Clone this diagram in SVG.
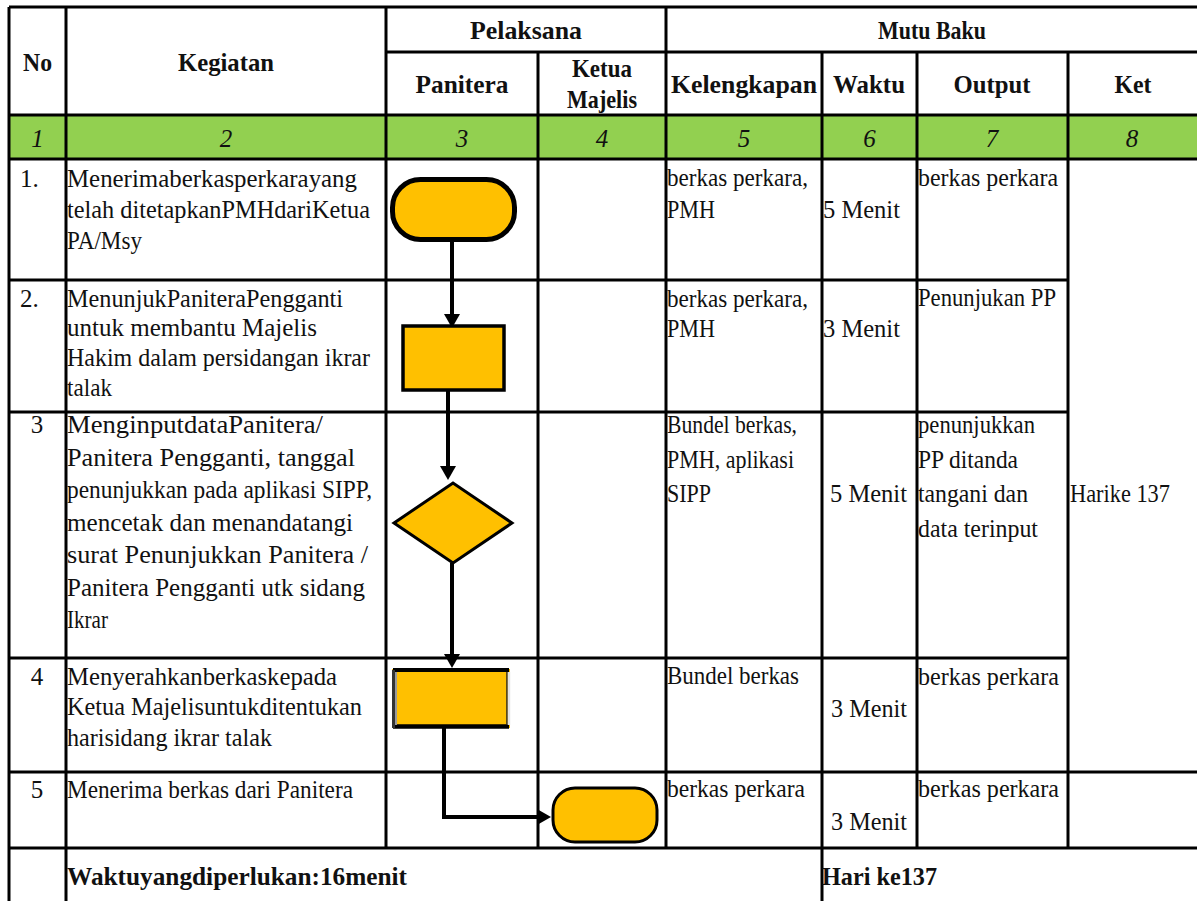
<svg xmlns="http://www.w3.org/2000/svg" width="1197" height="901" viewBox="0 0 1197 901">
  <style>
    .t { font-family: "Liberation Serif", "Times New Roman", serif; font-size: 25px; fill: #111; }
    .b { font-weight: bold; font-size: 26px; }
    .i { font-style: italic; }
    .c { text-anchor: middle; }
    .grid { stroke: #000; stroke-width: 3; fill: none; }
    .shape { fill: #FFC000; stroke: #000; }
    .wire { stroke: #000; stroke-width: 4; fill: none; }
  </style>
  <defs>
    <marker id="head" markerUnits="userSpaceOnUse" markerWidth="15" markerHeight="16" refX="0" refY="8" orient="auto">
      <path d="M0,0 L14,8 L0,16 z" fill="#000"/>
    </marker>
  </defs>

  <rect width="1197" height="901" fill="#fff"/>

  <!-- numbering band -->
  <rect x="9" y="115" width="1188" height="44" fill="#92D050"/>

  <!-- table rules -->
  <g id="table-grid" class="grid">
    <path d="M9,7 H1197 M386,52 H1197 M9,115 H1197 M9,159 H1197 M9,280 H1068 M9,412 H1068 M9,658 H1068 M9,772 H1197 M9,848 H1197"/>
    <path d="M9,7 V901 M66,7 V901 M386,7 V848 M538,52 V848 M666,7 V848 M822,52 V901 M917,52 V848 M1068,52 V848"/>
  </g>

  <!-- column headings -->
  <g id="header">
    <text class="t b c" x="37.5" y="71" textLength="29" lengthAdjust="spacingAndGlyphs">No</text>
    <text class="t b c" x="226" y="71" textLength="96" lengthAdjust="spacingAndGlyphs">Kegiatan</text>
    <text class="t b c" x="526" y="39" textLength="112" lengthAdjust="spacingAndGlyphs">Pelaksana</text>
    <text class="t b c" x="932" y="39" textLength="108" lengthAdjust="spacingAndGlyphs">Mutu Baku</text>
    <text class="t b c" x="462" y="93" textLength="93" lengthAdjust="spacingAndGlyphs">Panitera</text>
    <text class="t b c" x="602" y="77" textLength="60" lengthAdjust="spacingAndGlyphs">Ketua</text>
    <text class="t b c" x="602" y="108" textLength="70" lengthAdjust="spacingAndGlyphs">Majelis</text>
    <text class="t b c" x="744" y="93" textLength="146" lengthAdjust="spacingAndGlyphs">Kelengkapan</text>
    <text class="t b c" x="869" y="93" textLength="72" lengthAdjust="spacingAndGlyphs">Waktu</text>
    <text class="t b c" x="992" y="93" textLength="77" lengthAdjust="spacingAndGlyphs">Output</text>
    <text class="t b c" x="1133" y="93" textLength="37" lengthAdjust="spacingAndGlyphs">Ket</text>
  </g>

  <g id="column-numbers">
    <text class="t i c" x="37.5" y="147">1</text>
    <text class="t i c" x="226" y="147">2</text>
    <text class="t i c" x="462" y="147">3</text>
    <text class="t i c" x="602" y="147">4</text>
    <text class="t i c" x="744" y="147">5</text>
    <text class="t i c" x="869.5" y="147">6</text>
    <text class="t i c" x="992" y="147">7</text>
    <text class="t i c" x="1132" y="147">8</text>
  </g>

  <!-- row 1 -->
  <g id="row-1">
    <text class="t" x="20" y="187">1.</text>
    <text class="t" x="67" y="187" textLength="290" lengthAdjust="spacingAndGlyphs">Menerimaberkasperkarayang</text>
    <text class="t" x="67" y="218" textLength="303" lengthAdjust="spacingAndGlyphs">telah ditetapkanPMHdariKetua</text>
    <text class="t" x="67" y="249" textLength="75" lengthAdjust="spacingAndGlyphs">PA/Msy</text>
    <text class="t" x="667" y="186" textLength="141" lengthAdjust="spacingAndGlyphs">berkas perkara,</text>
    <text class="t" x="667" y="218" textLength="48" lengthAdjust="spacingAndGlyphs">PMH</text>
    <text class="t" x="823" y="218" textLength="77" lengthAdjust="spacingAndGlyphs">5 Menit</text>
    <text class="t" x="918" y="186" textLength="140" lengthAdjust="spacingAndGlyphs">berkas perkara</text>
  </g>

  <!-- row 2 -->
  <g id="row-2">
    <text class="t" x="20" y="307">2.</text>
    <text class="t" x="67" y="307" textLength="276" lengthAdjust="spacingAndGlyphs">MenunjukPaniteraPengganti</text>
    <text class="t" x="67" y="336" textLength="250" lengthAdjust="spacingAndGlyphs">untuk membantu Majelis</text>
    <text class="t" x="67" y="366" textLength="303" lengthAdjust="spacingAndGlyphs">Hakim dalam persidangan ikrar</text>
    <text class="t" x="67" y="396" textLength="45" lengthAdjust="spacingAndGlyphs">talak</text>
    <text class="t" x="667" y="307" textLength="141" lengthAdjust="spacingAndGlyphs">berkas perkara,</text>
    <text class="t" x="667" y="337" textLength="48" lengthAdjust="spacingAndGlyphs">PMH</text>
    <text class="t" x="823" y="337" textLength="77" lengthAdjust="spacingAndGlyphs">3 Menit</text>
    <text class="t" x="918" y="306" textLength="138" lengthAdjust="spacingAndGlyphs">Penunjukan PP</text>
  </g>

  <!-- row 3 -->
  <g id="row-3">
    <text class="t c" x="37" y="433">3</text>
    <text class="t" x="67" y="433" textLength="256" lengthAdjust="spacingAndGlyphs">MenginputdataPanitera/</text>
    <text class="t" x="67" y="465.5" textLength="288" lengthAdjust="spacingAndGlyphs">Panitera Pengganti, tanggal</text>
    <text class="t" x="67" y="498" textLength="305" lengthAdjust="spacingAndGlyphs">penunjukkan pada aplikasi  SIPP,</text>
    <text class="t" x="67" y="530.5" textLength="286" lengthAdjust="spacingAndGlyphs">mencetak dan menandatangi</text>
    <text class="t" x="67" y="563" textLength="301" lengthAdjust="spacingAndGlyphs">surat Penunjukkan Panitera /</text>
    <text class="t" x="67" y="595.5" textLength="298" lengthAdjust="spacingAndGlyphs">Panitera Pengganti utk sidang</text>
    <text class="t" x="67" y="628" textLength="41" lengthAdjust="spacingAndGlyphs">Ikrar</text>
    <text class="t" x="667" y="433" textLength="130" lengthAdjust="spacingAndGlyphs">Bundel berkas,</text>
    <text class="t" x="667" y="468" textLength="127" lengthAdjust="spacingAndGlyphs">PMH, aplikasi</text>
    <text class="t" x="667" y="502" textLength="44" lengthAdjust="spacingAndGlyphs">SIPP</text>
    <text class="t" x="830" y="502" textLength="77" lengthAdjust="spacingAndGlyphs">5 Menit</text>
    <text class="t" x="918" y="433" textLength="117" lengthAdjust="spacingAndGlyphs">penunjukkan</text>
    <text class="t" x="918" y="468" textLength="100" lengthAdjust="spacingAndGlyphs">PP ditanda</text>
    <text class="t" x="918" y="502" textLength="110" lengthAdjust="spacingAndGlyphs">tangani dan</text>
    <text class="t" x="918" y="537" textLength="120" lengthAdjust="spacingAndGlyphs">data terinput</text>
    <text class="t" x="1070" y="502" textLength="100" lengthAdjust="spacingAndGlyphs">Harike 137</text>
  </g>

  <!-- row 4 -->
  <g id="row-4">
    <text class="t c" x="37" y="685">4</text>
    <text class="t" x="67" y="685" textLength="270" lengthAdjust="spacingAndGlyphs">Menyerahkanberkaskepada</text>
    <text class="t" x="67" y="715" textLength="295" lengthAdjust="spacingAndGlyphs">Ketua Majelisuntukditentukan</text>
    <text class="t" x="67" y="746" textLength="205" lengthAdjust="spacingAndGlyphs">harisidang ikrar talak</text>
    <text class="t" x="667" y="684" textLength="132" lengthAdjust="spacingAndGlyphs">Bundel berkas</text>
    <text class="t" x="831" y="717" textLength="76" lengthAdjust="spacingAndGlyphs">3 Menit</text>
    <text class="t" x="918" y="685" textLength="141" lengthAdjust="spacingAndGlyphs">berkas perkara</text>
  </g>

  <!-- row 5 -->
  <g id="row-5">
    <text class="t c" x="37" y="798">5</text>
    <text class="t" x="67" y="798" textLength="286" lengthAdjust="spacingAndGlyphs">Menerima berkas dari  Panitera</text>
    <text class="t" x="667" y="797" textLength="138" lengthAdjust="spacingAndGlyphs">berkas perkara</text>
    <text class="t" x="831" y="830" textLength="76" lengthAdjust="spacingAndGlyphs">3 Menit</text>
    <text class="t" x="918" y="797" textLength="141" lengthAdjust="spacingAndGlyphs">berkas perkara</text>
  </g>

  <!-- totals -->
  <g id="totals">
    <text class="t b" x="67" y="885" textLength="340" lengthAdjust="spacingAndGlyphs">Waktuyangdiperlukan:16menit</text>
    <text class="t b" x="822" y="885" textLength="115" lengthAdjust="spacingAndGlyphs">Hari ke137</text>
  </g>

  <!-- flow connectors -->
  <g id="connectors">
    <path class="wire" d="M452,242 V314" marker-end="url(#head)"/>
    <path class="wire" d="M448,391 V466" marker-end="url(#head)"/>
    <path class="wire" d="M452,563 V654" marker-end="url(#head)"/>
    <path class="wire" d="M444,728 V817 H537" marker-end="url(#head)"/>
  </g>

  <!-- flow symbols -->
  <g id="start-terminator">
    <rect class="shape" x="392.5" y="179.5" width="122" height="60" rx="28" stroke-width="5"/>
  </g>
  <g id="assign-process">
    <rect class="shape" x="403" y="326" width="101" height="64" stroke-width="3.5"/>
  </g>
  <g id="input-decision">
    <polygon class="shape" points="394,523 453,483 512,523 453,563" stroke-width="3"/>
  </g>
  <g id="handover-process">
    <rect x="392" y="669" width="118" height="59" fill="#FFC000"/>
    <path d="M393,670 H509" stroke="#000" stroke-width="4"/>
    <path d="M393,726.5 H509" stroke="#000" stroke-width="4.5"/>
    <path d="M393.5,670 V728" stroke="#333" stroke-width="3"/>
    <path d="M396,672 V725" stroke="#9a9a9a" stroke-width="2"/>
    <path d="M507,672 V725" stroke="#222" stroke-width="1.5"/>
    <path d="M509,672 V725" stroke="#e4e4e4" stroke-width="2.5"/>
  </g>
  <g id="end-terminator">
    <rect class="shape" x="553" y="788" width="104" height="54" rx="22" stroke-width="3"/>
  </g>
</svg>
